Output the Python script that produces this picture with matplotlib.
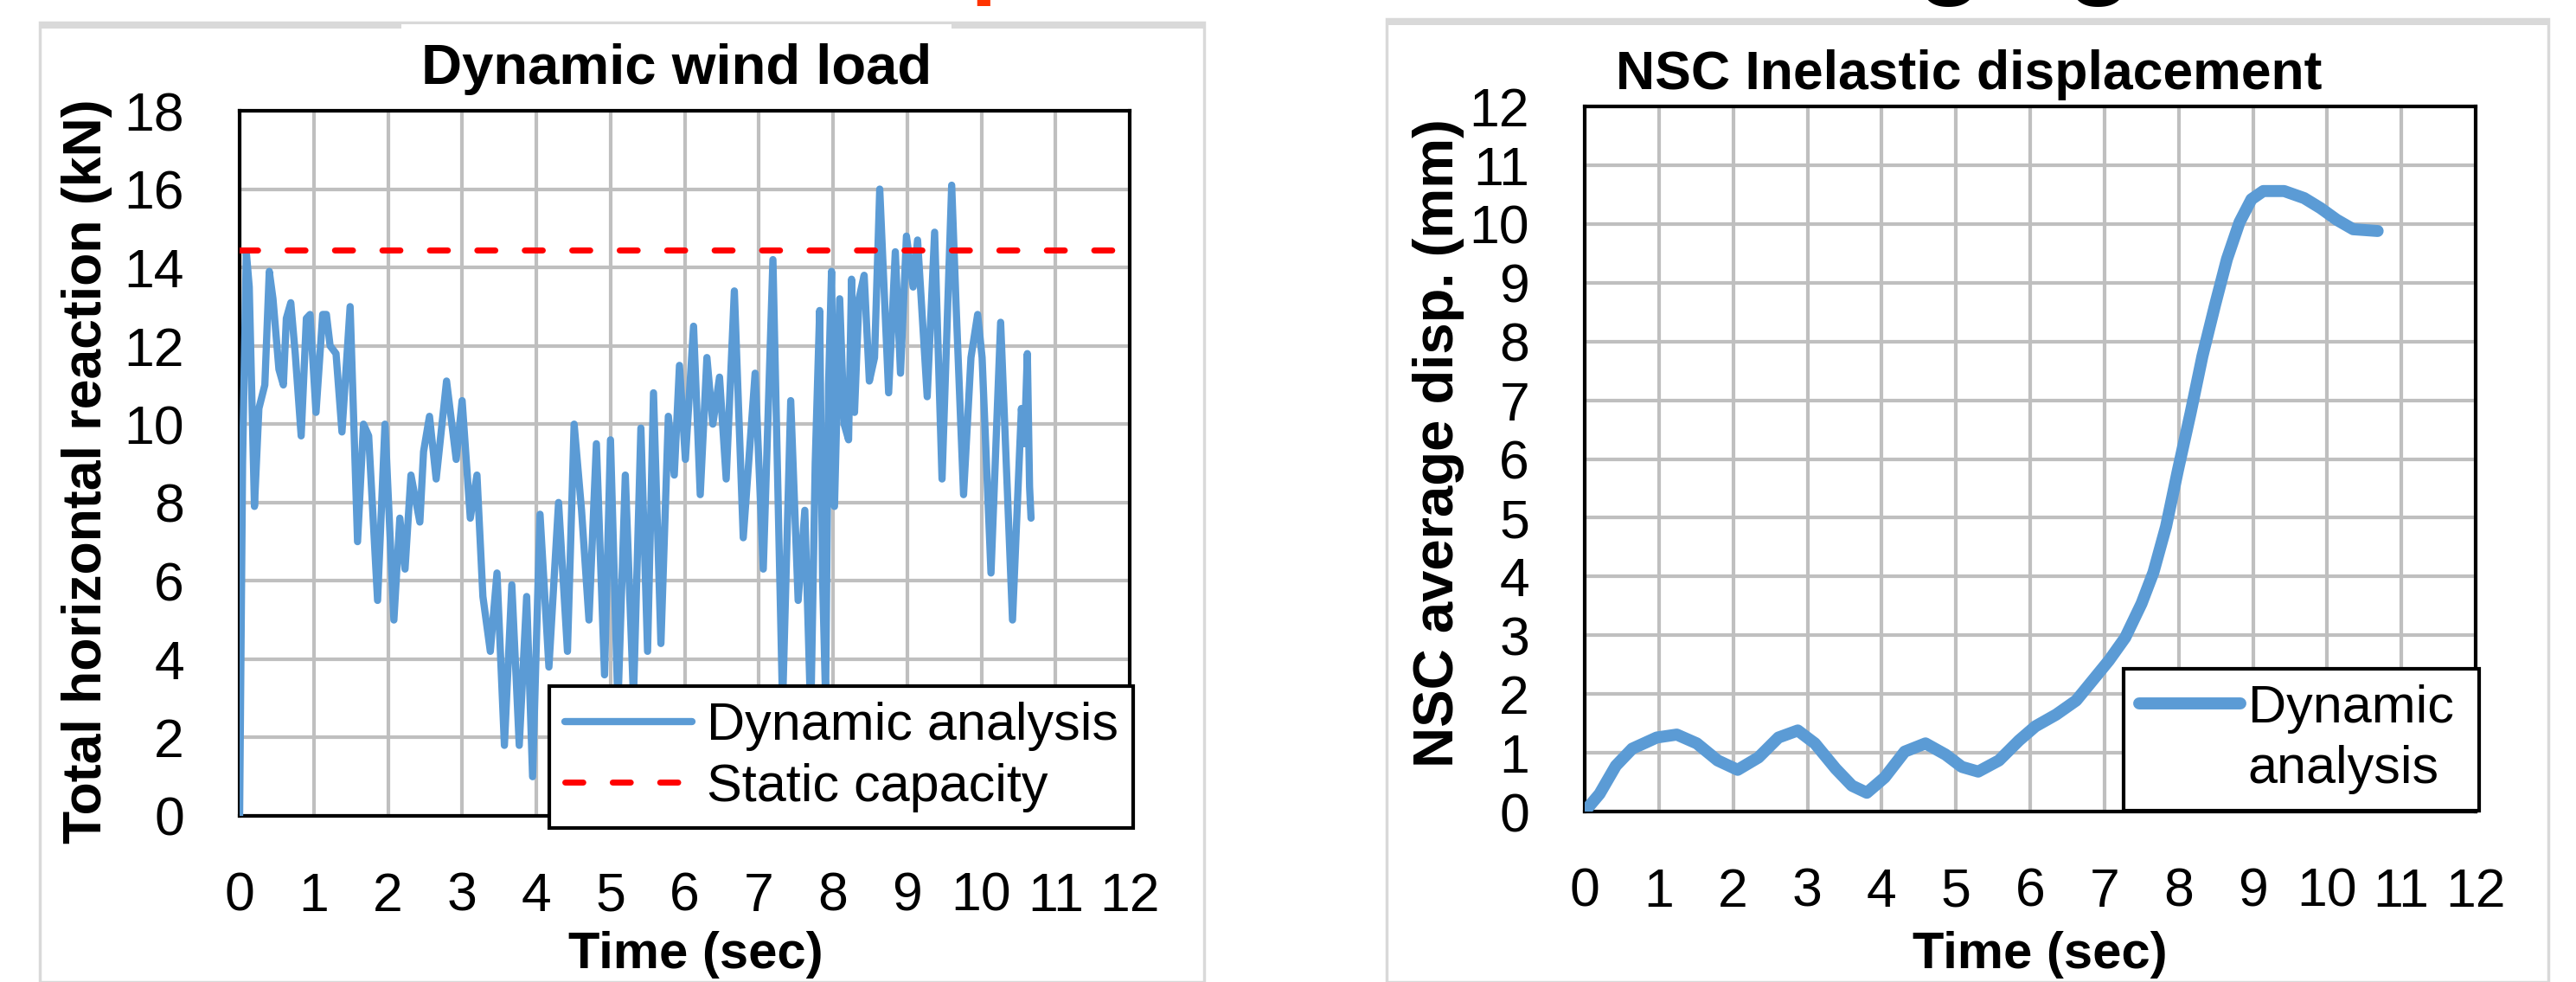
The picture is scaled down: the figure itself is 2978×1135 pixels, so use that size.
import numpy as np
import matplotlib
matplotlib.use("Agg")
import matplotlib.pyplot as plt
from matplotlib.patches import Rectangle
from matplotlib.lines import Line2D

plt.rcParams['font.family'] = ['Liberation Sans', 'DejaVu Sans']

# --- data ---
wind_time = [0.00, 0.04, 0.09, 0.13, 0.20, 0.26, 0.30, 0.34, 0.40, 0.45, 0.53, 0.59,
             0.63, 0.69, 0.75, 0.83, 0.90, 0.95, 1.03, 1.12, 1.17, 1.22, 1.30, 1.38,
             1.49, 1.59, 1.67, 1.74, 1.86, 1.96, 2.08, 2.16, 2.23, 2.31, 2.43, 2.48,
             2.56, 2.65, 2.79, 2.92, 3.00, 3.11, 3.20, 3.28, 3.38, 3.47, 3.57, 3.67,
             3.77, 3.87, 3.95, 4.05, 4.17, 4.30, 4.42, 4.51, 4.61, 4.71, 4.81, 4.92,
             5.00, 5.10, 5.20, 5.31, 5.41, 5.50, 5.58, 5.68, 5.78, 5.86, 5.93, 6.01,
             6.12, 6.21, 6.30, 6.38, 6.47, 6.56, 6.67, 6.79, 6.95, 7.06, 7.19, 7.32,
             7.43, 7.53, 7.62, 7.70, 7.76, 7.82, 7.86, 7.90, 7.94, 7.98, 8.02, 8.09,
             8.15, 8.21, 8.25, 8.29, 8.35, 8.42, 8.49, 8.56, 8.63, 8.75, 8.84, 8.91,
             8.99, 9.08, 9.14, 9.27, 9.37, 9.47, 9.60, 9.66, 9.76, 9.86, 9.95, 10.01,
             10.13, 10.26, 10.42, 10.54, 10.58, 10.62, 10.65, 10.67]
wind_reaction = [0.0, 9.0, 14.4, 13.5, 7.9, 10.4, 10.7, 11.0, 13.9, 13.2, 11.4, 11.0,
                 12.7, 13.1, 11.8, 9.7, 12.7, 12.8, 10.3, 12.8, 12.8, 12.0, 11.8, 9.8,
                 13.0, 7.0, 10.0, 9.7, 5.5, 10.0, 5.0, 7.6, 6.3, 8.7, 7.5, 9.3,
                 10.2, 8.6, 11.1, 9.1, 10.6, 7.6, 8.7, 5.6, 4.2, 6.2, 1.8, 5.9,
                 1.8, 5.6, 1.0, 7.7, 3.8, 8.0, 4.2, 10.0, 7.8, 5.0, 9.5, 3.6,
                 9.6, 2.8, 8.7, 3.0, 9.9, 4.2, 10.8, 4.4, 10.2, 8.7, 11.5, 9.1,
                 12.5, 8.2, 11.7, 10.0, 11.2, 8.6, 13.4, 7.1, 11.3, 6.3, 14.2, 2.8,
                 10.6, 5.5, 7.8, 2.5, 9.0, 12.9, 6.0, 3.0, 11.0, 13.9, 7.9, 13.2,
                 10.0, 9.6, 13.7, 10.3, 13.2, 13.8, 11.1, 11.7, 16.0, 10.8, 14.4, 11.3,
                 14.8, 13.5, 14.7, 10.7, 14.9, 8.6, 16.1, 13.0, 8.2, 11.7, 12.8, 11.7,
                 6.2, 12.6, 5.0, 10.4, 9.5, 11.8, 8.4, 7.6]
static_capacity = 14.45

disp_time = [0.0, 0.2, 0.42, 0.64, 0.97, 1.24, 1.51, 1.79, 2.06, 2.34, 2.61, 2.87,
             3.1, 3.38, 3.6, 3.8, 4.04, 4.31, 4.59, 4.86, 5.08, 5.3, 5.58, 5.85,
             6.07, 6.35, 6.62, 6.84, 7.06, 7.28, 7.5, 7.66, 7.83, 7.99, 8.16, 8.32,
             8.49, 8.65, 8.82, 8.98, 9.14, 9.42, 9.69, 9.91, 10.13, 10.35, 10.68]
disp_value = [0.0, 0.3, 0.78, 1.07, 1.26, 1.31, 1.16, 0.87, 0.71, 0.92, 1.26, 1.38,
              1.16, 0.73, 0.44, 0.32, 0.58, 1.02, 1.16, 0.97, 0.76, 0.68, 0.87, 1.21,
              1.45, 1.65, 1.89, 2.23, 2.57, 2.96, 3.54, 4.07, 4.85, 5.81, 6.78, 7.75,
              8.62, 9.40, 10.03, 10.42, 10.56, 10.56, 10.44, 10.27, 10.07, 9.91, 9.88]

W, H = 2978, 1135
BLUE = '#5B9BD5'
GRID = '#BFBFBF'


def fx(x):
    return x / W


def fy(y):
    return 1 - y / H


def box(x0, y0, x1, y1):
    return [fx(x0), fy(y1), (x1 - x0) / W, (y1 - y0) / H]


fig = plt.figure(figsize=(W / 100, H / 100), dpi=100)

# light grey slide frames behind each chart
for x0, x1, top in [(46, 1392, 26), (1603, 2946, 22)]:
    fig.patches.append(Rectangle((fx(x0), 0), (x1 - x0) / W, fy(top), transform=fig.transFigure,
                                 fill=False, ec='#D9D9D9', lw=2.5, zorder=0))
    fig.patches.append(Rectangle((fx(x0), fy(top + 7)), (x1 - x0) / W, 7 / H, transform=fig.transFigure,
                                 fc='#D9D9D9', ec='none', zorder=0))
# white box under the left title
fig.patches.append(Rectangle((fx(464), fy(113)), 636 / W, 85 / H, transform=fig.transFigure,
                             fc='white', ec='none', zorder=1))

# cut-off slide heading above the charts (only the descenders are in frame)
fig.text(fx(1122), fy(7), 'p', color='#FF3300', fontsize=80, fontweight='bold', ha='left', va='bottom')
fig.text(fx(1833), fy(3), ',', color='black', fontsize=80, fontweight='bold', ha='center', va='bottom')
fig.text(fx(2254), fy(8), 'g', color='black', fontsize=90, fontweight='bold', ha='center', va='bottom')
fig.text(fx(2427), fy(8), 'g', color='black', fontsize=90, fontweight='bold', ha='center', va='bottom')


def style(ax, ymax, ystep):
    ax.set_xlim(0, 12)
    ax.set_ylim(0, ymax)
    ax.set_xticks(np.arange(0, 13, 1))
    ax.set_yticks(np.arange(0, ymax + 1, ystep))
    ax.grid(True, color=GRID, lw=3)
    ax.set_axisbelow(True)
    ax.tick_params(length=0, pad=46, labelsize=45)
    for s in ax.spines.values():
        s.set_linewidth(3)
        s.set_color('black')


# ---- left: dynamic wind load ----
ax1 = fig.add_axes(box(277, 128, 1306, 943))
style(ax1, 18, 2)
ax1.plot(wind_time, wind_reaction, color=BLUE, lw=6, solid_joinstyle='round',
         solid_capstyle='round', label='Dynamic analysis', zorder=3)
ax1.plot([0, 12], [static_capacity, static_capacity], color='red', lw=5, dashes=(3, 4.9),
         dash_capstyle='round', label='Static capacity', zorder=4)
ax1.set_xlabel('Time (sec)', fontsize=43, fontweight='bold')
ax1.set_ylabel('Total horizontal reaction (kN)', fontsize=45, fontweight='bold')
ax1.yaxis.set_label_coords((130 - 277) / 1029, (943 - 545) / 815)
ax1.xaxis.set_label_coords(0.512, (943 - 1076) / 815)
leg1 = ax1.legend(loc='upper left', bbox_to_anchor=(0.348, -0.006, 0.656, 0.19), mode='expand',
                  fontsize=44, handlelength=2.4, handletextpad=0.28, borderpad=0.3,
                  labelspacing=0.22, fancybox=False, framealpha=1, edgecolor='black',
                  borderaxespad=0)
leg1.get_frame().set_linewidth(3)
leg1.set_zorder(10)
fig.text(fx(782), fy(97), 'Dynamic wind load', fontsize=47, fontweight='bold',
         ha='center', va='baseline', zorder=5)

# ---- right: NSC inelastic displacement ----
ax2 = fig.add_axes(box(1832, 123, 2862, 938))
style(ax2, 12, 1)
ax2.plot(disp_time, disp_value, color=BLUE, lw=10, solid_capstyle='round',
         solid_joinstyle='round', zorder=3)
ax2.set_xlabel('Time (sec)', fontsize=43, fontweight='bold')
ax2.set_ylabel('NSC average disp. (mm)', fontsize=47, fontweight='bold')
ax2.yaxis.set_label_coords((1693 - 1832) / 1030, (938 - 512) / 815)
ax2.xaxis.set_label_coords(0.511, (938 - 1076) / 815)
h_line = Line2D([], [], color=BLUE, lw=10, solid_capstyle='round')
h_none = Line2D([], [], color='none')
leg2 = ax2.legend([h_line, h_none], ['Dynamic', 'analysis'], loc='upper left',
                  bbox_to_anchor=(0.605, -0.005, 0.399, 0.208), mode='expand',
                  fontsize=44, handlelength=1.9, handletextpad=0.15, borderpad=0.3,
                  labelspacing=0.22, fancybox=False, framealpha=1, edgecolor='black',
                  borderaxespad=0)
leg2.get_frame().set_linewidth(3)
leg2.set_zorder(10)
fig.text(fx(2276), fy(103), 'NSC Inelastic displacement', fontsize=45, fontweight='bold',
         ha='center', va='baseline')

fig.savefig('out.png', dpi=100, facecolor='white')
